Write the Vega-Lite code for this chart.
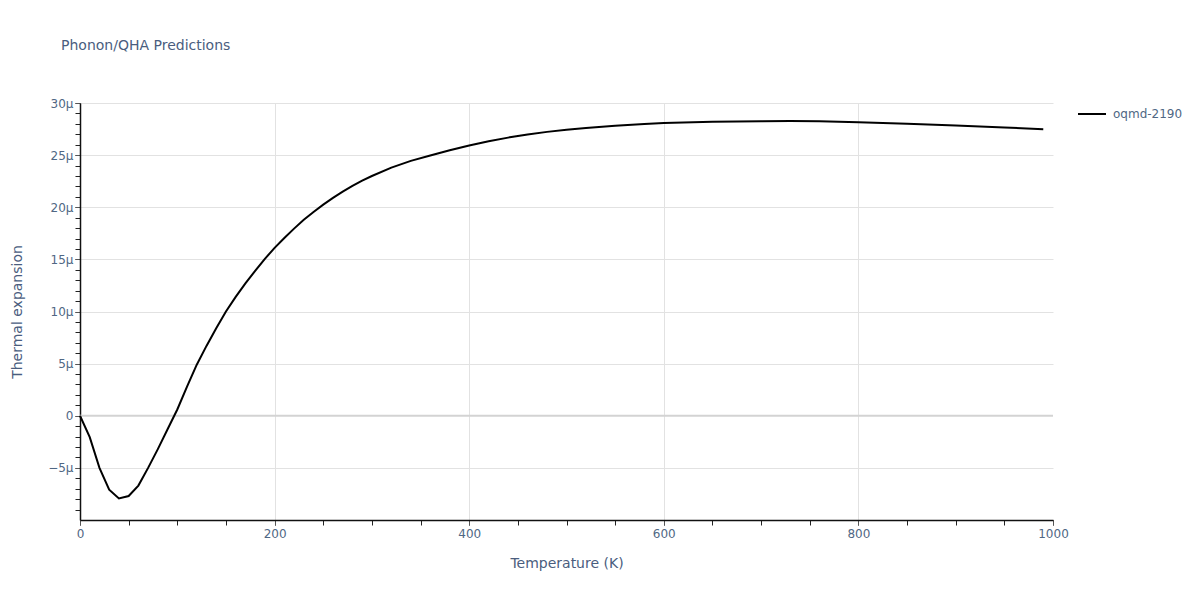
{
  "$schema": "https://vega.github.io/schema/vega-lite/v6.json",
  "autosize": "none",
  "width": 973,
  "height": 417,
  "padding": {"left": 80, "top": 103, "right": 147, "bottom": 80},
  "background": "white",
  "config": {
    "font": "DejaVu Sans",
    "view": {"stroke": null},
    "axis": {"labelFont": "DejaVu Sans", "titleFont": "DejaVu Sans", "labelColor": "#506784", "titleColor": "#4a5d7e", "labelFontSize": 12, "titleFontSize": 14, "titleFontWeight": "normal", "labelFlush": false}
  },
  "title": {
    "text": "Phonon/QHA Predictions",
    "anchor": "start",
    "frame": "group",
    "dx": -19,
    "offset": 44,
    "fontSize": 14,
    "fontWeight": "normal",
    "color": "#4a5d7e",
    "font": "DejaVu Sans"
  },
  "data": {
    "values": [
      {"T": 0, "alpha": 0, "series": "oqmd-2190"},
      {"T": 10, "alpha": -2.05e-6, "series": "oqmd-2190"},
      {"T": 20, "alpha": -5.0e-6, "series": "oqmd-2190"},
      {"T": 30, "alpha": -7.1e-6, "series": "oqmd-2190"},
      {"T": 40, "alpha": -7.93e-6, "series": "oqmd-2190"},
      {"T": 50, "alpha": -7.7e-6, "series": "oqmd-2190"},
      {"T": 60, "alpha": -6.7e-6, "series": "oqmd-2190"},
      {"T": 70, "alpha": -5.0e-6, "series": "oqmd-2190"},
      {"T": 80, "alpha": -3.2e-6, "series": "oqmd-2190"},
      {"T": 90, "alpha": -1.3e-6, "series": "oqmd-2190"},
      {"T": 100, "alpha": 0.6e-6, "series": "oqmd-2190"},
      {"T": 110, "alpha": 2.8e-6, "series": "oqmd-2190"},
      {"T": 120, "alpha": 4.9e-6, "series": "oqmd-2190"},
      {"T": 130, "alpha": 6.7e-6, "series": "oqmd-2190"},
      {"T": 140, "alpha": 8.4e-6, "series": "oqmd-2190"},
      {"T": 150, "alpha": 10.0e-6, "series": "oqmd-2190"},
      {"T": 160, "alpha": 11.4e-6, "series": "oqmd-2190"},
      {"T": 170, "alpha": 12.7e-6, "series": "oqmd-2190"},
      {"T": 180, "alpha": 13.9e-6, "series": "oqmd-2190"},
      {"T": 190, "alpha": 15.05e-6, "series": "oqmd-2190"},
      {"T": 200, "alpha": 16.1e-6, "series": "oqmd-2190"},
      {"T": 210, "alpha": 17.05e-6, "series": "oqmd-2190"},
      {"T": 220, "alpha": 17.95e-6, "series": "oqmd-2190"},
      {"T": 230, "alpha": 18.8e-6, "series": "oqmd-2190"},
      {"T": 240, "alpha": 19.55e-6, "series": "oqmd-2190"},
      {"T": 250, "alpha": 20.25e-6, "series": "oqmd-2190"},
      {"T": 260, "alpha": 20.9e-6, "series": "oqmd-2190"},
      {"T": 270, "alpha": 21.5e-6, "series": "oqmd-2190"},
      {"T": 280, "alpha": 22.05e-6, "series": "oqmd-2190"},
      {"T": 290, "alpha": 22.55e-6, "series": "oqmd-2190"},
      {"T": 300, "alpha": 23.0e-6, "series": "oqmd-2190"},
      {"T": 320, "alpha": 23.8e-6, "series": "oqmd-2190"},
      {"T": 340, "alpha": 24.45e-6, "series": "oqmd-2190"},
      {"T": 360, "alpha": 24.97e-6, "series": "oqmd-2190"},
      {"T": 380, "alpha": 25.47e-6, "series": "oqmd-2190"},
      {"T": 400, "alpha": 25.93e-6, "series": "oqmd-2190"},
      {"T": 420, "alpha": 26.33e-6, "series": "oqmd-2190"},
      {"T": 440, "alpha": 26.68e-6, "series": "oqmd-2190"},
      {"T": 460, "alpha": 26.98e-6, "series": "oqmd-2190"},
      {"T": 480, "alpha": 27.23e-6, "series": "oqmd-2190"},
      {"T": 500, "alpha": 27.44e-6, "series": "oqmd-2190"},
      {"T": 520, "alpha": 27.61e-6, "series": "oqmd-2190"},
      {"T": 550, "alpha": 27.82e-6, "series": "oqmd-2190"},
      {"T": 580, "alpha": 27.98e-6, "series": "oqmd-2190"},
      {"T": 600, "alpha": 28.07e-6, "series": "oqmd-2190"},
      {"T": 650, "alpha": 28.2e-6, "series": "oqmd-2190"},
      {"T": 700, "alpha": 28.26e-6, "series": "oqmd-2190"},
      {"T": 730, "alpha": 28.27e-6, "series": "oqmd-2190"},
      {"T": 760, "alpha": 28.24e-6, "series": "oqmd-2190"},
      {"T": 800, "alpha": 28.16e-6, "series": "oqmd-2190"},
      {"T": 850, "alpha": 28.01e-6, "series": "oqmd-2190"},
      {"T": 900, "alpha": 27.83e-6, "series": "oqmd-2190"},
      {"T": 950, "alpha": 27.65e-6, "series": "oqmd-2190"},
      {"T": 990, "alpha": 27.49e-6, "series": "oqmd-2190"}
    ]
  },
  "layer": [
    {
      "mark": {"type": "line", "opacity": 0},
      "encoding": {
        "x": {
          "field": "T", "type": "quantitative",
          "scale": {"domain": [0, 1000], "nice": false, "zero": false},
          "axis": {"orient": "bottom", "title": null, "labels": false, "grid": false, "domain": false,
                   "values": [0, 50, 100, 150, 200, 250, 300, 350, 400, 450, 500, 550, 600, 650, 700, 750, 800, 850, 900, 950, 1000],
                   "tickSize": 5, "tickColor": "#222", "tickWidth": 1}
        },
        "y": {
          "field": "alpha", "type": "quantitative",
          "scale": {"domain": [-10e-6, 30e-6], "nice": false, "zero": false},
          "axis": {"orient": "left", "title": null, "labels": false, "grid": false, "domain": false,
                   "values": [-9e-6, -8e-6, -7e-6, -6e-6, -5e-6, -4e-6, -3e-6, -2e-6, -1e-6, 0, 1e-6, 2e-6, 3e-6, 4e-6, 5e-6, 6e-6, 7e-6, 8e-6, 9e-6, 10e-6, 11e-6, 12e-6, 13e-6, 14e-6, 15e-6, 16e-6, 17e-6, 18e-6, 19e-6, 20e-6, 21e-6, 22e-6, 23e-6, 24e-6, 25e-6, 26e-6, 27e-6, 28e-6, 29e-6, 30e-6],
                   "tickSize": 5, "tickColor": "#222", "tickWidth": 1}
        }
      }
    },
    {
      "data": {"values": [{"z": 0}]},
      "mark": {"type": "rule", "color": "#d3d3d3", "strokeWidth": 2},
      "encoding": {
        "y": {"field": "z", "type": "quantitative", "axis": null}
      }
    },
    {
      "mark": {"type": "line", "strokeWidth": 2},
      "encoding": {
        "x": {
          "field": "T", "type": "quantitative",
          "axis": {"orient": "bottom", "title": "Temperature (K)", "values": [0, 200, 400, 600, 800, 1000], "format": "d",
                   "grid": true, "gridColor": "#e2e2e2", "gridOpacity": {"condition": {"test": "datum.value === 1000 || datum.value === 0", "value": 0}, "value": 1},
                   "domain": true, "domainColor": "#111", "domainWidth": 1.5,
                   "tickSize": 5, "tickColor": "#555", "labelPadding": 3, "titlePadding": 17}
        },
        "y": {
          "field": "alpha", "type": "quantitative",
          "axis": {"orient": "left", "title": "Thermal expansion", "format": "~s",
                   "labelExpr": "datum.value === 0 ? '0' : datum.label",
                   "values": [-5e-6, 0, 5e-6, 10e-6, 15e-6, 20e-6, 25e-6, 30e-6],
                   "grid": true, "gridColor": "#e2e2e2", "gridOpacity": {"condition": {"test": "datum.value === 0", "value": 0}, "value": 1},
                   "domain": true, "domainColor": "#111", "domainWidth": 1.5,
                   "tickSize": 5, "tickColor": "#555", "labelPadding": 2, "titlePadding": 23}
        },
        "color": {
          "field": "series", "type": "nominal",
          "scale": {"range": ["#000000"]},
          "legend": {"title": null, "orient": "none", "legendX": 997, "legendY": -4, "symbolType": "stroke", "symbolSize": 784, "symbolStrokeWidth": 2, "labelFontSize": 12, "labelColor": "#506784", "labelFont": "DejaVu Sans", "labelOffset": 6, "padding": 0}
        }
      }
    }
  ],
  "resolve": {"axis": {"x": "independent", "y": "independent"}}
}
